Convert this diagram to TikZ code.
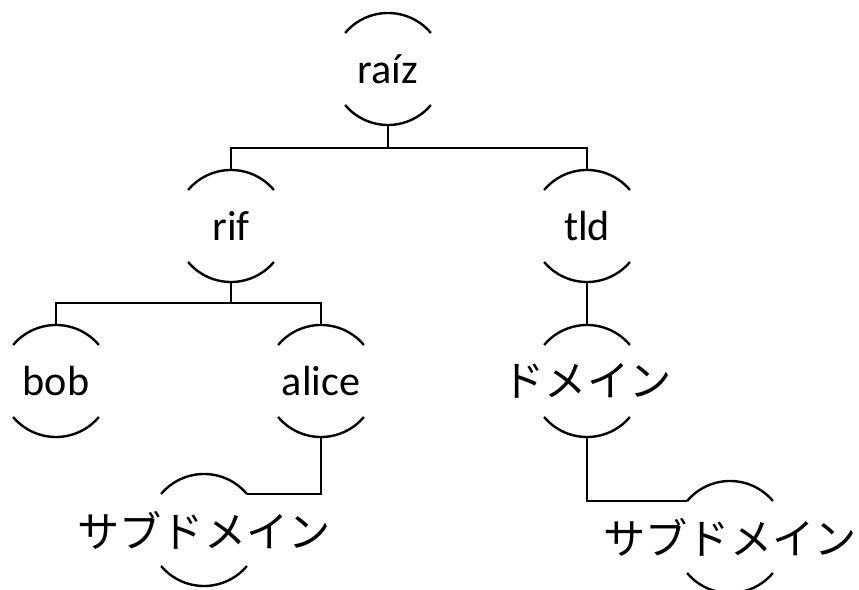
\documentclass[tikz,border=0pt]{standalone}
\usepackage{fontspec}
\setmainfont{Carlito}
\newfontfamily\jp{Noto Sans CJK JP}
\usetikzlibrary{positioning}

\begin{document}
\begin{tikzpicture}[x=0.025cm, y=0.025cm, line width=1.7pt,
  dns/.style={circle, minimum size=2.8cm, inner sep=0pt, outer sep=0pt,
    label={[font=\fontsize{30}{36}\selectfont]center:#1}}]

\useasboundingbox (0,0) rectangle (859,590);

% nós da árvore
\node[dns=raíz] (raiz) at (388,521) {};
\node[dns=rif] (rif) at (231,364) {};
\node[dns=tld] (tld) at (587,364) {};
\node[dns=bob] (bob) at (56,209) {};
\node[dns=alice] (alice) at (321,209) {};
\node[dns={\jp ドメイン}] (dom) at (587,209) {};
\node[dns={\jp サブドメイン}] (sub1) at (204,60) {};
\node[dns={\jp サブドメイン}] (sub2) at (730,53) {};

% arcos de cima e de baixo
\foreach \n in {raiz,rif,tld,bob,alice,dom,sub1,sub2} {
  \draw (\n.40) arc[start angle=40, end angle=140, radius=1.4cm];
  \draw (\n.220) arc[start angle=220, end angle=320, radius=1.4cm];
}

% ligações
\draw (raiz.south) -- ++(0,-23) -| (rif.north);
\draw (raiz.south) -- ++(0,-23) -| (tld.north);
\draw (rif.south) -- ++(0,-21) -| (bob.north);
\draw (rif.south) -- ++(0,-21) -| (alice.north);
\draw (tld.south) -- (dom.north);
\draw (alice.south) |- (sub1.40);
\draw (dom.south) |- (sub2.140);

\end{tikzpicture}
\end{document}
